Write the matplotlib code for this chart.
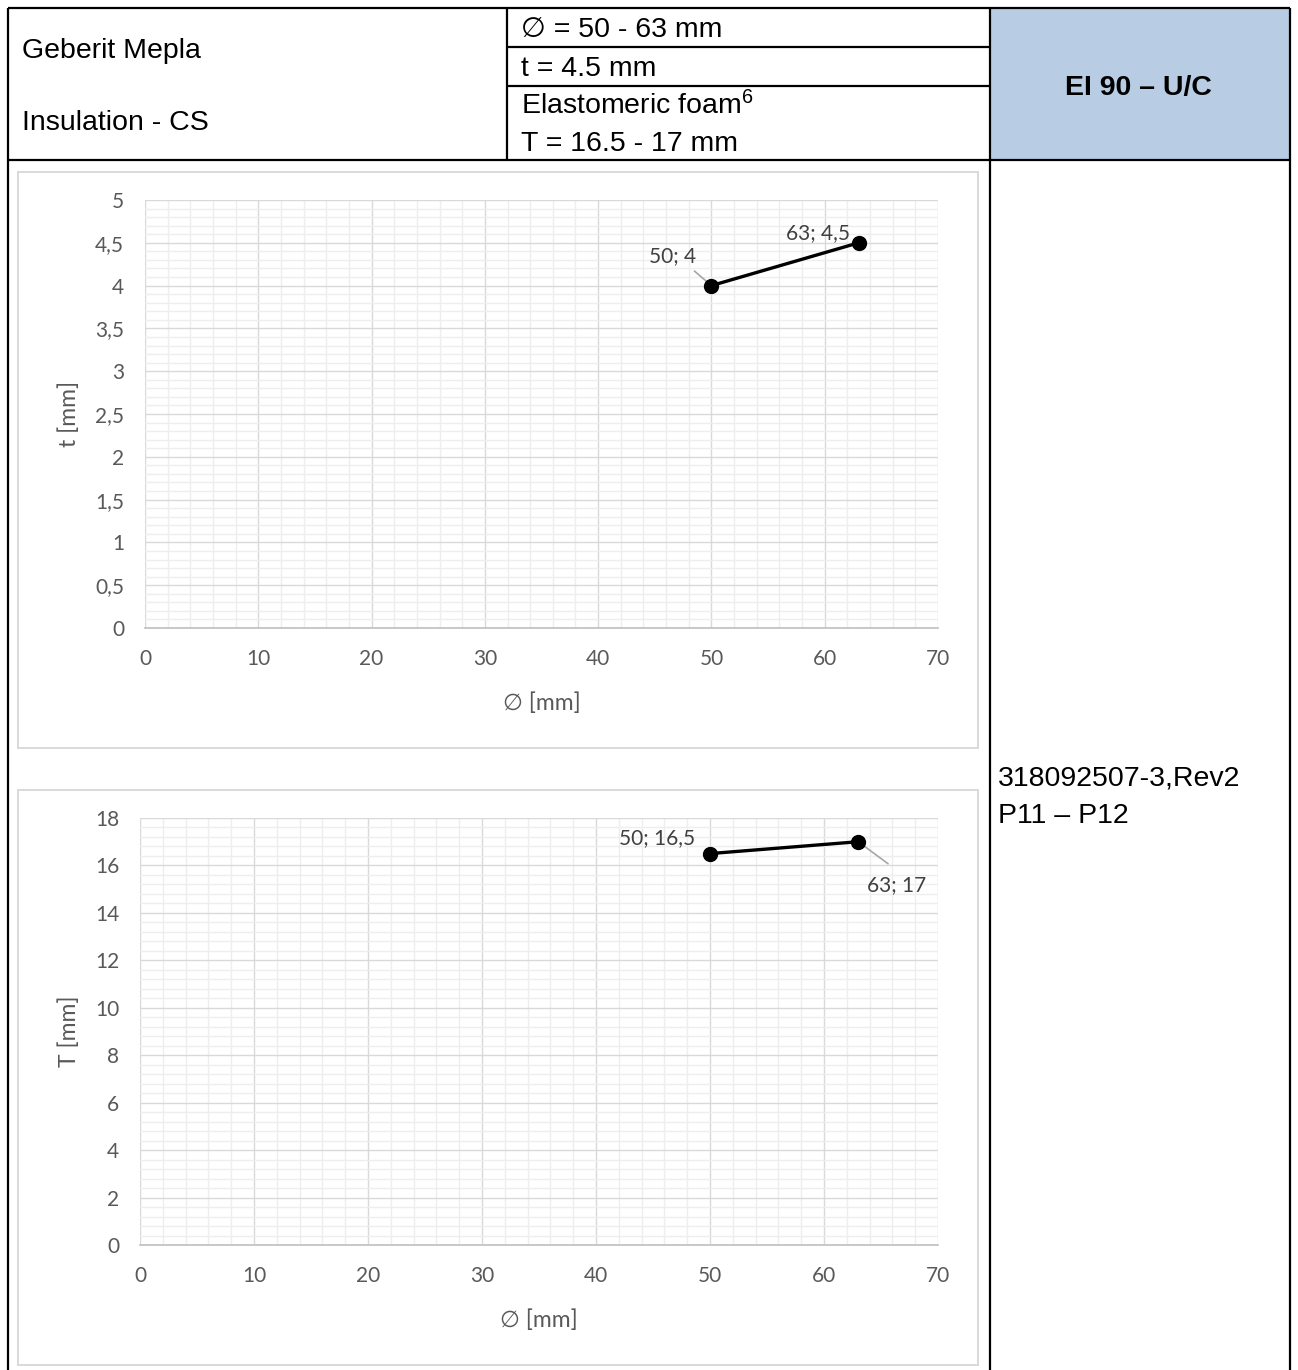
import matplotlib
matplotlib.use("Agg")
import matplotlib.pyplot as plt
from matplotlib.patches import Rectangle
from matplotlib.ticker import MultipleLocator

plt.rcParams['mathtext.fontset'] = 'custom'
plt.rcParams['mathtext.rm'] = 'Liberation Sans'
plt.rcParams['mathtext.default'] = 'regular'

# data
d_vals = [50, 63]
t_vals = [4, 4.5]
T_vals = [16.5, 17]
t_point_labels = ["50; 4", "63; 4,5"]
T_point_labels = ["50; 16,5", "63; 17"]
x_ticks = [0, 10, 20, 30, 40, 50, 60, 70]
t_ticks = [0, 0.5, 1, 1.5, 2, 2.5, 3, 3.5, 4, 4.5, 5]
t_tick_labels = ["0", "0,5", "1", "1,5", "2", "2,5", "3", "3,5", "4", "4,5", "5"]
T_ticks = [0, 2, 4, 6, 8, 10, 12, 14, 16, 18]

W, H = 1298, 1370
fig = plt.figure(figsize=(W / 100, H / 100), dpi=100)

# overlay in pixel coordinates for the table
bg = fig.add_axes([0, 0, 1, 1])
bg.set_xlim(0, W)
bg.set_ylim(H, 0)
bg.axis('off')

hdr = ['Liberation Sans', 'DejaVu Sans']
bg.add_patch(Rectangle((990, 8), 300, 152, facecolor='#B8CCE4', edgecolor='none'))
blk = dict(color='black', lw=1.6, solid_capstyle='butt')
bg.plot([8, 1290], [8, 8], **blk)
bg.plot([8, 1290], [160, 160], **blk)
bg.plot([8, 8], [8, 1370], **blk)
bg.plot([1290, 1290], [8, 1370], **blk)
bg.plot([507, 507], [8, 160], **blk)
bg.plot([990, 990], [8, 1370], **blk)
bg.plot([507, 990], [47, 47], **blk)
bg.plot([507, 990], [86, 86], **blk)

fs = 20.5
bg.text(22, 51, "Geberit Mepla", fontsize=fs, family=hdr, va='center')
bg.text(22, 123, "Insulation - CS", fontsize=fs, family=hdr, va='center')
bg.text(521, 30, "\u2205 = 50 - 63 mm", fontsize=fs, family=hdr, va='center')
bg.text(521, 69, "t = 4.5 mm", fontsize=fs, family=hdr, va='center')
bg.text(521, 106, r"Elastomeric foam$^{6}$", fontsize=fs, family=hdr, va='center')
bg.text(521, 144, "T = 16.5 - 17 mm", fontsize=fs, family=hdr, va='center')
bg.text(1138, 88, "EI 90 \u2013 U/C", fontsize=fs, family=hdr, va='center', ha='center', weight='bold')
bg.text(998, 778, "318092507-3,Rev2", fontsize=fs, family=hdr, va='center')
bg.text(998, 816, "P11 \u2013 P12", fontsize=fs, family=hdr, va='center')

# chart frames
bg.add_patch(Rectangle((18, 172), 960, 576, facecolor='none', edgecolor='#D9D9D9', lw=1.4))
bg.add_patch(Rectangle((18, 790), 960, 575, facecolor='none', edgecolor='#D9D9D9', lw=1.4))


def frac(x0, y0, x1, y1):
    return [x0 / W, 1 - y1 / H, (x1 - x0) / W, (y1 - y0) / H]


cf = ['Lato', 'DejaVu Sans']


def style(ax, ymax, ymajor, yminor):
    ax.set_xlim(0, 70)
    ax.set_ylim(0, ymax)
    ax.set_xticks(x_ticks)
    ax.xaxis.set_minor_locator(MultipleLocator(2))
    ax.yaxis.set_major_locator(MultipleLocator(ymajor))
    ax.yaxis.set_minor_locator(MultipleLocator(yminor))
    ax.grid(which='minor', color='#EEEEEE', lw=1.0)
    ax.grid(which='major', color='#D9D9D9', lw=1.0)
    ax.set_axisbelow(True)
    for s in ['top', 'right', 'left']:
        ax.spines[s].set_visible(False)
    ax.spines['bottom'].set_color('#BFBFBF')
    ax.spines['bottom'].set_linewidth(1.2)
    ax.tick_params(which='both', length=0, labelsize=15, labelcolor='#595959', pad=15)
    for lb in ax.get_xticklabels() + ax.get_yticklabels():
        lb.set_family(cf)


lab = dict(fontsize=15, color='#404040', family=cf, ha='center', va='center')
lead = dict(arrowstyle='-', color='#A6A6A6', lw=1.2)

# upper chart: t
ax1 = fig.add_axes(frac(145, 200, 938, 628))
style(ax1, 5, 0.5, 0.1)
ax1.set_yticks(t_ticks)
ax1.set_yticklabels(t_tick_labels, family=cf)
ax1.plot(d_vals, t_vals, color='black', lw=2.4, marker='o', ms=10, zorder=5, clip_on=False)
ax1.set_xlabel("\u2205 [mm]", fontsize=16.5, color='#595959', family=cf, labelpad=17)
ax1.set_ylabel("t [mm]", fontsize=16.5, color='#595959', family=cf, labelpad=11)
ax1.annotate(t_point_labels[0], xy=(d_vals[0], t_vals[0]), xytext=(-28, 21),
             textcoords='offset points', arrowprops=dict(relpos=(0.85, 0), shrinkA=2, shrinkB=4, **lead), **lab)
ax1.annotate(t_point_labels[1], xy=(d_vals[1], t_vals[1]), xytext=(-29, 7),
             textcoords='offset points', **lab)

# lower chart: T
ax2 = fig.add_axes(frac(140, 818, 938, 1245))
style(ax2, 18, 2, 0.4)
ax2.set_yticks(T_ticks)
ax2.plot(d_vals, T_vals, color='black', lw=2.4, marker='o', ms=10, zorder=5, clip_on=False)
ax2.set_xlabel("\u2205 [mm]", fontsize=16.5, color='#595959', family=cf, labelpad=17)
ax2.set_ylabel("T [mm]", fontsize=16.5, color='#595959', family=cf, labelpad=11)
ax2.annotate(T_point_labels[0], xy=(d_vals[0], T_vals[0]), xytext=(-38, 11),
             textcoords='offset points', **lab)
ax2.annotate(T_point_labels[1], xy=(d_vals[1], T_vals[1]), xytext=(28, -31),
             textcoords='offset points', arrowprops=dict(relpos=(0.6, 1), shrinkA=10, shrinkB=3, **lead), **lab)

fig.savefig("out.png", dpi=100)
